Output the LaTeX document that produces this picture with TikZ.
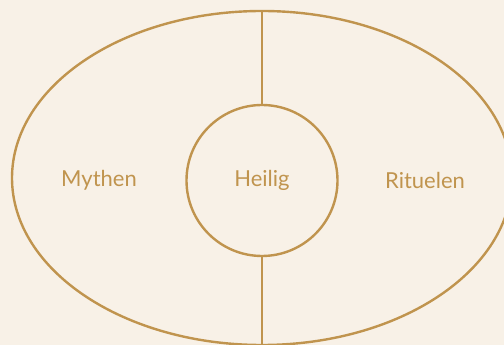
\documentclass[tikz,border=0pt]{standalone}
\usepackage{fontspec}
\setmainfont{Lato}
\usetikzlibrary{positioning,shapes.geometric}
\definecolor{Cream}{RGB}{248,241,231}
\definecolor{Ochre}{RGB}{192,148,78}
\tikzset{
  ring/.style={draw=Ochre,line width=2.4pt,inner sep=0pt},
  label/.style={text=Ochre,font=\fontsize{22}{26}\selectfont,inner sep=0pt},
  divider/.style={draw=Ochre,line width=2.4pt}
}

\begin{document}
\begin{tikzpicture}[x=1pt,y=1pt]
  \fill[Cream] (0,0) rectangle (504,345);
  \useasboundingbox (0,0) rectangle (504,345);
  \clip (0,0) rectangle (504,345);
  \node[ring,ellipse,minimum width=500pt,minimum height=334pt] (outer) at (262,167) {};
  \node[ring,circle,minimum size=151pt] (core) at (262,164.5) {};
  \node[label] (heilig) at (core.center) {Heilig};
  \node[label] (mythen) at (99,164.5) {Mythen};
  \node[label] (rituelen) at (425,164.5) {Rituelen};
  \draw[divider] (core.north) -- (outer.north);
  \draw[divider] (core.south) -- (outer.south);
\end{tikzpicture}
\end{document}
